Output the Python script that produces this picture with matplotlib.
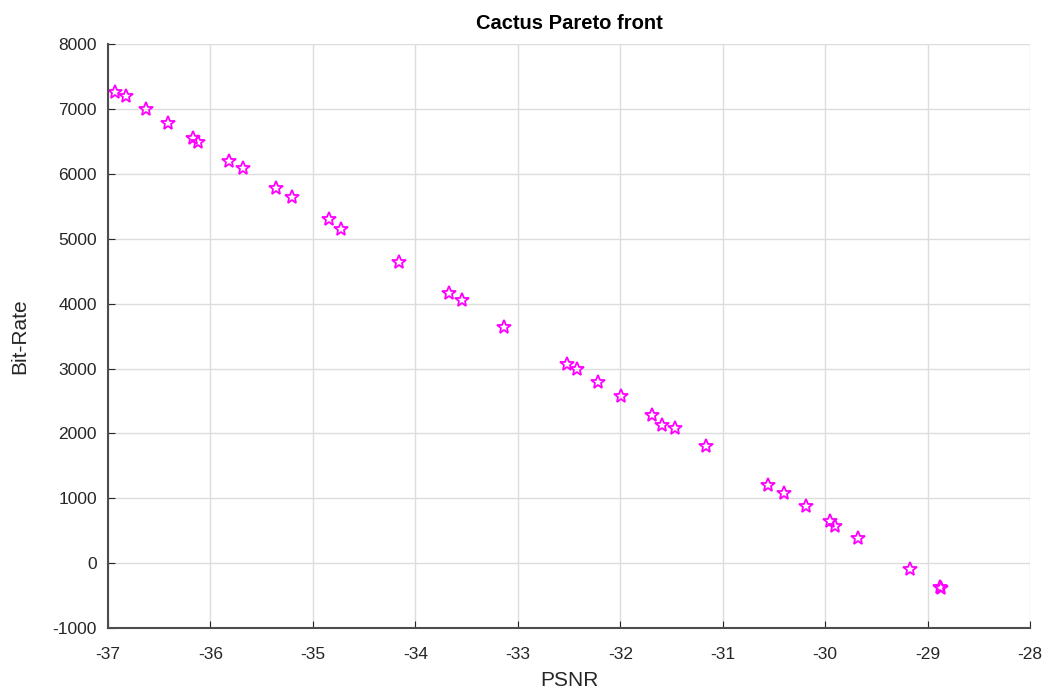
import numpy as np
import matplotlib
matplotlib.use("Agg")
import matplotlib.pyplot as plt

# Pareto front points (PSNR vs bit-rate)
psnr = [-36.93, -36.82, -36.63, -36.41, -36.17, -36.12, -35.82, -35.68,
        -35.36, -35.20, -34.84, -34.73, -34.16, -33.67, -33.55, -33.14,
        -32.52, -32.42, -32.22, -31.99, -31.69, -31.59, -31.47, -31.16,
        -30.56, -30.40, -30.19, -29.95, -29.90, -29.68, -29.17, -28.88, -28.87]
bitrate = [7270, 7200, 7000, 6780, 6560, 6500, 6200, 6100,
           5790, 5640, 5300, 5150, 4640, 4170, 4050, 3640,
           3070, 3000, 2790, 2570, 2280, 2130, 2080, 1800,
           1210, 1080, 880, 650, 580, 390, -90, -370, -380]

xticks = np.arange(-37, -27, 1)
yticks = np.arange(-1000, 9000, 1000)

plt.rcParams['font.family'] = ['Liberation Sans', 'DejaVu Sans']
plt.rcParams['axes.unicode_minus'] = False

fig = plt.figure(figsize=(10.49, 6.92), dpi=100)
ax = fig.add_axes([0.103, 0.0925, 0.879, 0.8435])

ax.plot(psnr, bitrate, linestyle='none', marker='*', markersize=10.5,
        markerfacecolor='none', markeredgecolor='#ff00ff', markeredgewidth=1.3)

ax.set_xlim(-37, -28)
ax.set_ylim(-1000, 8000)
ax.set_xticks(xticks)
ax.set_yticks(yticks)
ax.grid(True, color='#dcdcdc', linewidth=1)
ax.set_axisbelow(True)
ax.tick_params(direction='in', length=5, labelsize=12.5, colors='#262626')
ax.tick_params(axis='x', pad=14)
ax.tick_params(axis='y', pad=8)
for s in ['top', 'right']:
    ax.spines[s].set_visible(False)
for s in ['left', 'bottom']:
    ax.spines[s].set_color('#4d4d4d')
    ax.spines[s].set_linewidth(1.5)

ax.set_xlabel('PSNR', fontsize=15, color='#262626', labelpad=6)
ax.set_ylabel('Bit-Rate', fontsize=15, color='#262626', labelpad=17)
ax.set_title('Cactus Pareto front', fontsize=14.5, fontweight='bold', pad=11)

fig.savefig('out.png', dpi=100)
